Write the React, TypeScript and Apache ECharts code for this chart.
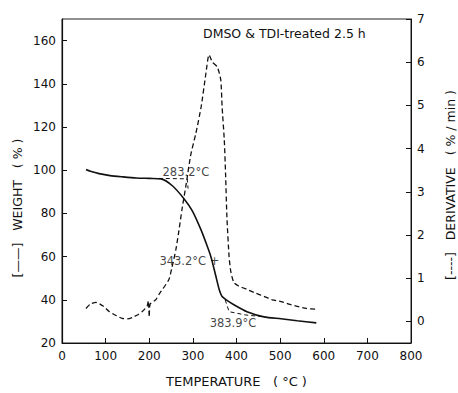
import React, { useEffect, useRef } from "react";
import * as echarts from "echarts";

// Weight curve (solid, left axis)
const weightTemps = [55, 65, 85, 110, 140, 170, 200, 227, 253, 280, 299, 318, 333, 342, 352, 360, 367, 380, 394, 424, 463, 502, 539, 583];
const weightValues = [100.3, 99.5, 98.4, 97.5, 96.9, 96.4, 96.2, 96.0, 92.8, 86.7, 81.1, 72.7, 64.8, 59.5, 51.5, 45.0, 41.5, 39.5, 37.7, 34.5, 32.1, 31.2, 30.3, 29.3];

// Derivative curve (dashed, right axis)
const derivTemps = [55, 65, 78, 95, 108, 125, 138, 150, 161, 175, 184, 195, 198, 200, 202, 215, 222, 245, 252, 261, 268, 275, 285, 295, 307, 319, 330, 337, 345, 356, 364, 367, 372, 375, 378, 383, 387, 394, 405, 424, 445, 463, 482, 502, 520, 539, 560, 583];
const derivValues = [0.30, 0.40, 0.44, 0.35, 0.23, 0.13, 0.07, 0.06, 0.09, 0.16, 0.23, 0.35, 0.48, 0.10, 0.40, 0.50, 0.62, 0.97, 1.25, 1.66, 2.1, 2.59, 3.2, 3.85, 4.36, 4.97, 5.75, 6.17, 6.0, 5.89, 5.59, 4.97, 4.2, 3.4, 2.42, 1.5, 1.15, 0.9, 0.82, 0.74, 0.65, 0.58, 0.5, 0.46, 0.4, 0.35, 0.3, 0.28];

// Onset tangent construction lines (thin dashed, left axis)
const onset1Temps = [222, 287, 289];
const onset1Values = [96.2, 96.0, 91.5];
const onset2Temps = [374, 383, 420, 463];
const onset2Values = [40, 34.5, 33, 32.1];

// Annotations
const annotTexts = ["283.2°C", "343.2°C +", "383.9°C"];
const annotTemps = [284, 292, 392];
const annotWeights = [99.3, 57.8, 29.3];

const xTicks = { min: 0, max: 800, interval: 100 };
const leftTicks = { min: 20, max: 170, interval: 20 };
const rightTicks = { min: -0.5, max: 7 };

const FONT = "'DejaVu Sans', sans-serif";

export default function App() {
  const ref = useRef<HTMLDivElement>(null);
  useEffect(() => {
    if (!ref.current) return;
    const chart = echarts.init(ref.current, null, { renderer: "svg" });
    const pair = (xs: number[], ys: number[]) => xs.map((x, i) => [x, ys[i]]);
    chart.setOption({
      animation: false,
      backgroundColor: "#fff",
      grid: {
        left: 62,
        right: 47,
        top: 19,
        bottom: 50,
        show: true,
        borderColor: "#222",
        borderWidth: 1,
        outerBoundsMode: "none",
      },
      xAxis: {
        type: "value",
        ...xTicks,
        axisLine: { show: true, onZero: false, lineStyle: { color: "#111", width: 1 } },
        axisTick: { show: true, inside: true, length: 5, lineStyle: { color: "#111" } },
        axisLabel: { color: "#111", fontSize: 12, fontFamily: FONT, margin: 7 },
        splitLine: { show: false },
        name: "TEMPERATURE   ( °C )",
        nameLocation: "middle",
        nameGap: 32,
        nameTextStyle: { color: "#111", fontSize: 13, fontFamily: FONT },
      },
      yAxis: [
        {
          type: "value",
          position: "left",
          ...leftTicks,
          axisLine: { show: true, onZero: false, lineStyle: { color: "#111", width: 1.2 } },
          axisTick: { show: true, inside: true, length: 5, lineStyle: { color: "#111" } },
          axisLabel: { color: "#111", fontSize: 12, fontFamily: FONT, margin: 6, showMaxLabel: false },
          splitLine: { show: false },
        },
        {
          type: "value",
          position: "right",
          ...rightTicks,
          splitNumber: 8,
          axisLine: { show: true, onZero: false, lineStyle: { color: "#111", width: 1 } },
          axisTick: { show: true, inside: true, length: 5, lineStyle: { color: "#111" } },
          axisLabel: {
            color: "#111",
            fontSize: 12,
            fontFamily: FONT,
            margin: 6,
            showMinLabel: false,
            formatter: (v: number) => (Number.isInteger(v) ? String(v) : ""),
          },
          splitLine: { show: false },
        },
      ],
      graphic: [
        {
          type: "text",
          x: 203,
          y: 33,
          style: { text: "DMSO & TDI-treated 2.5 h", fill: "#111", font: `12.5px ${FONT}`, align: "left", verticalAlign: "middle" },
        },
        {
          type: "text",
          x: 17,
          y: 208,
          rotation: Math.PI / 2,
          style: { text: "[——]   WEIGHT   ( % )", fill: "#111", font: `12.5px ${FONT}`, align: "center", verticalAlign: "middle" },
        },
        {
          type: "text",
          x: 450,
          y: 185,
          rotation: Math.PI / 2,
          style: { text: "[----]   DERIVATIVE   ( % / min )", fill: "#111", font: `12.5px ${FONT}`, align: "center", verticalAlign: "middle" },
        },
      ],
      series: [
        {
          name: "weight",
          type: "line",
          yAxisIndex: 0,
          data: pair(weightTemps, weightValues),
          showSymbol: false,
          smooth: 0.25,
          lineStyle: { color: "#111", width: 1.6 },
          z: 3,
        },
        {
          name: "derivative",
          type: "line",
          yAxisIndex: 1,
          data: pair(derivTemps, derivValues),
          showSymbol: false,
          smooth: 0.2,
          lineStyle: { color: "#111", width: 1.3, type: [5, 3] },
          z: 3,
        },
        {
          name: "onset1",
          type: "line",
          yAxisIndex: 0,
          data: pair(onset1Temps, onset1Values),
          showSymbol: false,
          lineStyle: { color: "#111", width: 1, type: [4, 3] },
        },
        {
          name: "onset2",
          type: "line",
          yAxisIndex: 0,
          data: pair(onset2Temps, onset2Values),
          showSymbol: false,
          lineStyle: { color: "#111", width: 1, type: [4, 3] },
        },
        {
          name: "annotations",
          type: "scatter",
          yAxisIndex: 0,
          symbolSize: 0,
          data: annotTemps.map((t, i) => ({ value: [t, annotWeights[i]], name: annotTexts[i] })),
          label: {
            show: true,
            position: "inside",
            formatter: (p: any) => p.name,
            color: "#111",
            fontSize: 11.5,
            fontFamily: FONT,
          },
          silent: true,
        },
      ],
    });
    return () => chart.dispose();
  }, []);
  return <div ref={ref} style={{ position: "fixed", left: 0, top: 0, width: 458, height: 393 }} />;
}
